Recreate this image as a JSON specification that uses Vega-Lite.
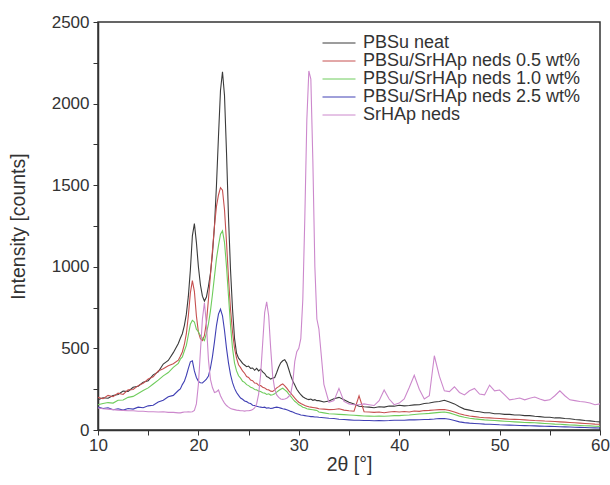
{
"$schema": "https://vega.github.io/schema/vega-lite/v6.json",
"width": 502, "height": 408,
"autosize": {"type": "none"},
"padding": {"left": 98, "top": 22, "right": 10, "bottom": 55},
"background": "white",
"config": {
  "font": "Liberation Sans",
  "view": {"stroke": "#333333", "strokeWidth": 1.5},
  "axis": {"grid": false, "domainColor": "#333333", "domainWidth": 1.5, "tickColor": "#333333", "tickSize": 5, "tickWidth": 1, "labelColor": "#333333", "labelFontSize": 17, "titleFontSize": 19.5, "titleFontWeight": "normal", "titleColor": "#333333", "labelOverlap": false, "labelFlush": false}
},
"data": {"values": [
{"t":10,"a":185,"b":200,"c":155,"d":140,"e":135},
{"t":10.5,"a":198,"b":192,"c":162,"d":132,"e":130},
{"t":11,"a":195,"b":212,"c":168,"d":136,"e":128},
{"t":11.5,"a":212,"b":204,"c":165,"d":124,"e":125},
{"t":12,"a":218,"b":226,"c":182,"d":130,"e":122},
{"t":12.5,"a":238,"b":218,"c":184,"d":122,"e":120},
{"t":13,"a":236,"b":246,"c":200,"d":132,"e":118},
{"t":13.5,"a":262,"b":248,"c":206,"d":128,"e":118},
{"t":14,"a":268,"b":272,"c":224,"d":140,"e":115},
{"t":14.5,"a":292,"b":286,"c":242,"d":136,"e":115},
{"t":15,"a":302,"b":312,"c":258,"d":148,"e":112},
{"t":15.5,"a":338,"b":326,"c":282,"d":152,"e":112},
{"t":16,"a":356,"b":362,"c":306,"d":172,"e":110},
{"t":16.5,"a":404,"b":376,"c":332,"d":182,"e":112},
{"t":17,"a":426,"b":394,"c":352,"d":204,"e":108},
{"t":17.5,"a":474,"b":406,"c":384,"d":212,"e":108},
{"t":18,"a":530,"b":428,"c":408,"d":242,"e":105},
{"t":18.2,"a":562,"b":452,"c":434,"d":252,"e":105},
{"t":18.4,"a":590,"b":478,"c":448,"d":278,"e":108},
{"t":18.6,"a":640,"b":524,"c":484,"d":298,"e":110},
{"t":18.8,"a":710,"b":590,"c":518,"d":334,"e":110},
{"t":19,"a":820,"b":700,"c":582,"d":378,"e":112},
{"t":19.2,"a":980,"b":840,"c":648,"d":418,"e":110},
{"t":19.4,"a":1190,"b":915,"c":672,"d":424,"e":112},
{"t":19.6,"a":1265,"b":850,"c":662,"d":362,"e":120},
{"t":19.8,"a":1150,"b":700,"c":618,"d":322,"e":160},
{"t":20,"a":1000,"b":600,"c":602,"d":298,"e":280},
{"t":20.2,"a":890,"b":560,"c":578,"d":290,"e":480},
{"t":20.4,"a":820,"b":548,"c":562,"d":288,"e":680},
{"t":20.6,"a":790,"b":580,"c":548,"d":300,"e":780},
{"t":20.8,"a":815,"b":660,"c":592,"d":312,"e":650},
{"t":21,"a":880,"b":800,"c":650,"d":330,"e":430},
{"t":21.2,"a":960,"b":950,"c":730,"d":380,"e":310},
{"t":21.4,"a":1080,"b":1100,"c":830,"d":450,"e":260},
{"t":21.6,"a":1250,"b":1250,"c":940,"d":540,"e":230},
{"t":21.8,"a":1500,"b":1370,"c":1050,"d":640,"e":235},
{"t":22,"a":1800,"b":1440,"c":1130,"d":710,"e":245},
{"t":22.2,"a":2080,"b":1485,"c":1200,"d":740,"e":210},
{"t":22.4,"a":2195,"b":1470,"c":1220,"d":700,"e":185},
{"t":22.6,"a":2050,"b":1350,"c":1150,"d":610,"e":165},
{"t":22.8,"a":1700,"b":1150,"c":1000,"d":500,"e":150},
{"t":23,"a":1300,"b":930,"c":820,"d":410,"e":140},
{"t":23.2,"a":980,"b":740,"c":640,"d":340,"e":132},
{"t":23.4,"a":740,"b":600,"c":500,"d":290,"e":128},
{"t":23.6,"a":560,"b":500,"c":410,"d":255,"e":125},
{"t":23.8,"a":470,"b":440,"c":362,"d":230,"e":122},
{"t":24,"a":440,"b":400,"c":332,"d":212,"e":120},
{"t":24.2,"a":425,"b":382,"c":318,"d":196,"e":118},
{"t":24.4,"a":408,"b":362,"c":298,"d":188,"e":118},
{"t":24.6,"a":398,"b":348,"c":292,"d":178,"e":116},
{"t":24.8,"a":388,"b":328,"c":278,"d":174,"e":118},
{"t":25,"a":392,"b":322,"c":272,"d":166,"e":118},
{"t":25.2,"a":378,"b":306,"c":262,"d":162,"e":120},
{"t":25.4,"a":380,"b":302,"c":258,"d":152,"e":125},
{"t":25.6,"a":366,"b":288,"c":248,"d":150,"e":135},
{"t":25.8,"a":378,"b":286,"c":246,"d":146,"e":160},
{"t":26,"a":362,"b":274,"c":238,"d":142,"e":220},
{"t":26.2,"a":372,"b":272,"c":236,"d":140,"e":340},
{"t":26.4,"a":356,"b":262,"c":228,"d":138,"e":530},
{"t":26.6,"a":346,"b":258,"c":226,"d":140,"e":720},
{"t":26.8,"a":328,"b":248,"c":218,"d":134,"e":785},
{"t":27,"a":322,"b":246,"c":222,"d":136,"e":700},
{"t":27.2,"a":312,"b":238,"c":214,"d":132,"e":500},
{"t":27.4,"a":318,"b":236,"c":216,"d":134,"e":330},
{"t":27.6,"a":322,"b":246,"c":222,"d":138,"e":250},
{"t":27.8,"a":352,"b":258,"c":232,"d":140,"e":215},
{"t":28,"a":386,"b":266,"c":242,"d":138,"e":200},
{"t":28.2,"a":412,"b":276,"c":250,"d":134,"e":190},
{"t":28.4,"a":424,"b":282,"c":256,"d":130,"e":188},
{"t":28.6,"a":430,"b":270,"c":246,"d":128,"e":190},
{"t":28.8,"a":410,"b":256,"c":236,"d":124,"e":195},
{"t":29,"a":372,"b":240,"c":220,"d":120,"e":205},
{"t":29.2,"a":332,"b":226,"c":206,"d":114,"e":225},
{"t":29.4,"a":300,"b":210,"c":190,"d":110,"e":290},
{"t":29.6,"a":276,"b":196,"c":176,"d":104,"e":420},
{"t":29.8,"a":250,"b":182,"c":166,"d":100,"e":480},
{"t":30,"a":232,"b":170,"c":154,"d":96,"e":500},
{"t":30.2,"a":216,"b":162,"c":148,"d":92,"e":560},
{"t":30.4,"a":204,"b":156,"c":140,"d":90,"e":800},
{"t":30.6,"a":196,"b":150,"c":136,"d":88,"e":1300},
{"t":30.8,"a":190,"b":146,"c":130,"d":86,"e":1900},
{"t":31,"a":186,"b":142,"c":128,"d":84,"e":2200},
{"t":31.2,"a":190,"b":140,"c":126,"d":82,"e":2150},
{"t":31.4,"a":182,"b":138,"c":124,"d":82,"e":1650},
{"t":31.6,"a":186,"b":136,"c":122,"d":80,"e":1000},
{"t":31.8,"a":180,"b":134,"c":120,"d":80,"e":680},
{"t":32,"a":180,"b":130,"c":110,"d":78,"e":620},
{"t":32.5,"a":172,"b":128,"c":105,"d":75,"e":280},
{"t":33,"a":178,"b":125,"c":100,"d":72,"e":170},
{"t":33.5,"a":192,"b":126,"c":98,"d":70,"e":180},
{"t":34,"a":200,"b":130,"c":96,"d":66,"e":255},
{"t":34.5,"a":185,"b":122,"c":94,"d":64,"e":175},
{"t":35,"a":170,"b":118,"c":92,"d":62,"e":160},
{"t":35.5,"a":160,"b":115,"c":90,"d":60,"e":155},
{"t":36,"a":145,"b":210,"c":88,"d":60,"e":155},
{"t":36.5,"a":142,"b":112,"c":86,"d":58,"e":160},
{"t":37,"a":140,"b":110,"c":85,"d":58,"e":155},
{"t":37.5,"a":136,"b":108,"c":84,"d":57,"e":150},
{"t":38,"a":142,"b":110,"c":85,"d":58,"e":180},
{"t":38.5,"a":140,"b":106,"c":84,"d":57,"e":245},
{"t":39,"a":147,"b":110,"c":86,"d":58,"e":190},
{"t":39.5,"a":146,"b":113,"c":88,"d":60,"e":155},
{"t":40,"a":152,"b":110,"c":88,"d":60,"e":165},
{"t":40.5,"a":148,"b":113,"c":90,"d":60,"e":190},
{"t":41,"a":150,"b":110,"c":92,"d":62,"e":260},
{"t":41.5,"a":154,"b":116,"c":95,"d":62,"e":335},
{"t":42,"a":155,"b":114,"c":98,"d":63,"e":250},
{"t":42.5,"a":162,"b":119,"c":100,"d":64,"e":190},
{"t":43,"a":165,"b":120,"c":102,"d":65,"e":210},
{"t":43.5,"a":172,"b":123,"c":105,"d":67,"e":455},
{"t":44,"a":175,"b":125,"c":108,"d":70,"e":330},
{"t":44.5,"a":182,"b":126,"c":110,"d":70,"e":240},
{"t":45,"a":172,"b":120,"c":105,"d":66,"e":235},
{"t":45.5,"a":160,"b":110,"c":95,"d":58,"e":265},
{"t":46,"a":142,"b":100,"c":85,"d":50,"e":230},
{"t":46.5,"a":128,"b":92,"c":78,"d":45,"e":215},
{"t":47,"a":122,"b":86,"c":72,"d":42,"e":240},
{"t":47.5,"a":115,"b":82,"c":68,"d":40,"e":255},
{"t":48,"a":112,"b":78,"c":65,"d":38,"e":220},
{"t":48.5,"a":106,"b":75,"c":62,"d":36,"e":215},
{"t":49,"a":106,"b":74,"c":60,"d":35,"e":275},
{"t":49.5,"a":100,"b":72,"c":58,"d":34,"e":240},
{"t":50,"a":100,"b":70,"c":56,"d":32,"e":245},
{"t":50.5,"a":96,"b":68,"c":54,"d":31,"e":215},
{"t":51,"a":96,"b":66,"c":52,"d":30,"e":185},
{"t":51.5,"a":92,"b":65,"c":50,"d":29,"e":190},
{"t":52,"a":92,"b":64,"c":48,"d":28,"e":196},
{"t":52.5,"a":88,"b":62,"c":46,"d":27,"e":185},
{"t":53,"a":88,"b":60,"c":45,"d":26,"e":195},
{"t":53.5,"a":84,"b":58,"c":44,"d":25,"e":202},
{"t":54,"a":82,"b":57,"c":42,"d":24,"e":190},
{"t":54.5,"a":78,"b":55,"c":40,"d":23,"e":180},
{"t":55,"a":78,"b":54,"c":38,"d":22,"e":185},
{"t":55.5,"a":74,"b":52,"c":36,"d":21,"e":210},
{"t":56,"a":74,"b":50,"c":35,"d":20,"e":240},
{"t":56.5,"a":70,"b":48,"c":33,"d":19,"e":210},
{"t":57,"a":69,"b":46,"c":31,"d":18,"e":185},
{"t":57.5,"a":64,"b":44,"c":30,"d":17,"e":180},
{"t":58,"a":62,"b":42,"c":28,"d":16,"e":175},
{"t":58.5,"a":58,"b":40,"c":26,"d":15,"e":172},
{"t":59,"a":56,"b":38,"c":25,"d":14,"e":165},
{"t":59.5,"a":52,"b":36,"c":23,"d":13,"e":155},
{"t":60,"a":50,"b":35,"c":22,"d":12,"e":160}
]},
"transform": [{"fold": ["a", "b", "c", "d", "e"], "as": ["s", "v"]}],
"mark": {"type": "line", "strokeWidth": 1.1},
"encoding": {
  "x": {"field": "t", "type": "quantitative", "scale": {"domain": [10, 60], "nice": false},
    "axis": {"values": [10, 15, 20, 25, 30, 35, 40, 45, 50, 55, 60], "labelExpr": "datum.value % 10 === 0 ? datum.label : ''", "labelPadding": 2, "title": "2θ [°]", "titleX": 251, "titleY": 34, "titleBaseline": "middle"}},
  "y": {"field": "v", "type": "quantitative", "scale": {"domain": [0, 2500], "nice": false},
    "axis": {"values": [0, 250, 500, 750, 1000, 1250, 1500, 1750, 2000, 2250, 2500], "format": "d", "labelExpr": "datum.value % 500 === 0 ? datum.label : ''", "labelPadding": 4, "title": "Intensity [counts]", "titleX": -80, "titleY": 204, "titleAngle": 270, "titleAlign": "center", "titleBaseline": "middle"}},
  "color": {"field": "s", "type": "nominal",
    "scale": {"domain": ["a", "b", "c", "d", "e"], "range": ["#3a3a3a", "#c65050", "#6fcc5c", "#4040b4", "#cc88cc"]},
    "legend": {"orient": "none", "legendX": 232, "legendY": 12, "title": null, "padding": 0, "symbolType": "M-3,0H3", "symbolSize": 121, "symbolStrokeWidth": 1, "labelFontSize": 18, "labelLimit": 400, "labelColor": "#333333", "labelOffset": 15, "rowPadding": -2,
      "labelExpr": "datum.value === 'a' ? 'PBSu neat' : datum.value === 'b' ? 'PBSu/SrHAp neds 0.5 wt%' : datum.value === 'c' ? 'PBSu/SrHAp neds 1.0 wt%' : datum.value === 'd' ? 'PBSu/SrHAp neds 2.5 wt%' : 'SrHAp neds'"}}
}
}
